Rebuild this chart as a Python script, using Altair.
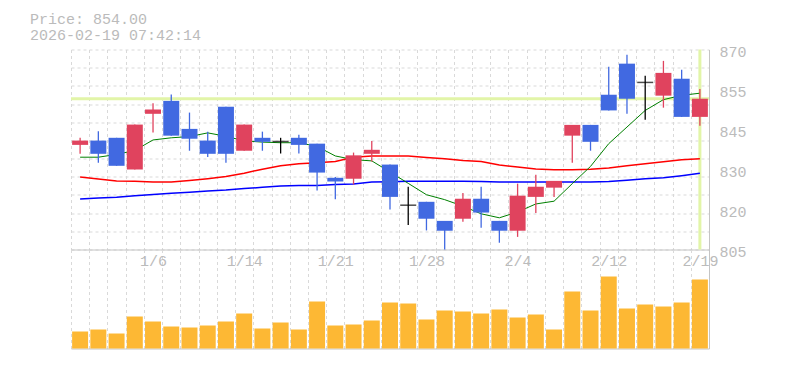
import altair as alt
import pandas as pd

# ---------------- data ----------------
dates = ["12/26", "12/29", "12/30", "1/5", "1/6", "1/7", "1/8", "1/9", "1/13", "1/14",
         "1/15", "1/16", "1/19", "1/20", "1/21", "1/22", "1/23", "1/26", "1/27", "1/28",
         "1/29", "1/30", "2/2", "2/3", "2/4", "2/5", "2/6", "2/9", "2/10", "2/12",
         "2/13", "2/16", "2/17", "2/18", "2/19"]
opens = [839.0, 840.4, 841.3, 831.0, 849.1, 853.3, 844.2, 840.4, 851.4, 837.1,
         841.3, 840.1, 841.3, 839.4, 828.3, 828.0, 836.1, 832.6, 819.4, 820.5,
         814.3, 815.0, 821.5, 814.3, 811.1, 822.1, 825.1, 842.0, 845.5, 855.3,
         865.4, 859.3, 855.0, 860.5, 848.1]
highs = [841.3, 843.4, 841.3, 845.6, 852.5, 855.4, 849.5, 843.3, 851.4, 845.6,
         843.3, 841.3, 842.3, 839.4, 828.6, 836.5, 840.3, 832.6, 825.4, 820.5,
         814.3, 823.4, 825.4, 814.3, 826.4, 829.3, 827.3, 845.5, 845.5, 864.4,
         868.3, 861.5, 866.3, 863.4, 857.2]
lows = [836.1, 833.2, 832.2, 831.0, 843.0, 842.0, 837.1, 835.1, 833.2, 837.1,
        837.1, 836.2, 836.2, 824.2, 821.3, 826.1, 833.6, 818.0, 813.0, 811.2,
        805.0, 814.0, 812.1, 807.2, 809.1, 816.9, 822.1, 833.2, 837.1, 850.2,
        849.1, 847.2, 851.1, 848.1, 845.2]
closes = [840.4, 836.1, 832.2, 845.6, 850.5, 842.0, 841.0, 836.1, 836.1, 845.6,
          840.0, 840.1, 839.0, 830.0, 827.1, 835.6, 837.4, 822.1, 819.4, 815.0,
          811.1, 821.5, 817.0, 811.1, 822.5, 825.4, 827.3, 845.5, 840.0, 850.2,
          854.0, 859.3, 862.4, 848.1, 854.0]
volumes = [17, 19, 15, 32, 27, 22, 21, 23, 27, 35,
           20, 26, 19, 47, 23, 24, 28, 46, 45, 29,
           38, 37, 35, 39, 31, 34, 19, 57, 38, 72,
           40, 44, 42, 46, 69]
ma_short = [835.0, 835.0, 835.9, 837.2, 840.6, 841.3, 841.7, 842.9, 841.8, 840.3,
            839.9, 839.7, 839.7, 838.5, 835.4, 834.2, 833.8, 830.2, 826.5, 822.8,
            821.2, 819.1, 816.6, 815.3, 817.2, 819.8, 820.7, 826.4, 832.0, 839.4,
            844.8, 850.2, 853.7, 855.1, 855.8]
ma_mid = [828.6, 827.9, 827.3, 827.2, 826.9, 826.9, 827.4, 828.0, 828.7, 829.8,
          831.1, 832.2, 832.9, 833.2, 833.6, 835.0, 835.4, 835.4, 835.4, 834.9,
          834.5, 833.9, 833.6, 832.5, 831.8, 831.2, 830.9, 830.9, 831.1, 831.5,
          832.2, 832.9, 833.5, 834.2, 834.5]
ma_long = [821.4, 821.7, 822.0, 822.5, 822.9, 823.3, 823.6, 824.0, 824.3, 824.8,
           825.2, 825.6, 825.8, 825.8, 826.1, 826.3, 826.9, 827.0, 827.2, 827.2,
           827.2, 827.2, 827.1, 826.9, 826.9, 826.9, 826.9, 826.9, 826.9, 827.1,
           827.5, 828.0, 828.3, 829.0, 829.8]
last_price = 854.0
timestamp = "2026-02-19 07:42:14"

label_idx = [4, 9, 14, 19, 24, 29, 34]
y_tick_values = [805, 818, 831, 844, 857, 870]
y_tick_labels = ["805", "820", "830", "845", "855", "870"]
y_grid_values = [805, 810.909, 816.818, 822.727, 828.636, 834.545,
                 840.455, 846.364, 852.273, 858.182, 864.091, 870]

# ---------------- styling ----------------
FONT = "Liberation Mono"
LABEL = "#bbbbbb"
GRID = "#d9d9d9"
BORDER = "#c4c4c4"
UP = "#e0435e"
DOWN = "#4169e1"
VOL = "#fdb834"
PRICE_LINE = "#e2f5a8"

n = len(dates)
df = pd.DataFrame({
    "idx": list(range(n)), "date": dates, "open": opens, "high": highs,
    "low": lows, "close": closes, "vol": volumes,
    "ma_short": ma_short, "ma_mid": ma_mid, "ma_long": ma_long,
})
df["dir"] = ["up" if c > o else ("down" if c < o else "doji") for o, c in zip(opens, closes)]

x_grid_values = [i - 0.5 for i in range(n + 1)]
xscale = alt.Scale(domain=[-0.5, n - 0.5], nice=False, zero=False, padding=0)
yscale = alt.Scale(domain=[805, 870], nice=False, zero=False, padding=0)
vscale = alt.Scale(domain=[0, 99], nice=False, zero=True, padding=0)
dir_scale = alt.Scale(domain=["up", "down", "doji"], range=[UP, DOWN, "#000000"])

grid_x_axis = alt.Axis(values=x_grid_values, orient="bottom", grid=True, gridDash=[3, 3],
                       gridColor=GRID, labels=False, ticks=False, domain=True,
                       domainColor=BORDER, title=None)
grid_y_axis = alt.Axis(values=y_grid_values, orient="left", grid=True, gridDash=[3, 3],
                       gridColor=GRID, labels=False, ticks=False, domain=False, title=None)

y_expr = " : ".join(f"datum.value == {v} ? '{l}'" for v, l in zip(y_tick_values, y_tick_labels)) + " : ''"
price_axis = alt.Axis(values=y_tick_values, orient="right", labelExpr=y_expr, grid=False,
                      ticks=False, domain=True, domainColor=BORDER, labelPadding=10,
                      labelFont=FONT, labelFontSize=15, labelColor=LABEL, labelOffset=2,
                      title=None)

x_expr = " : ".join(f"datum.value == {i} ? '{dates[i]}'" for i in label_idx) + " : ''"
date_axis = alt.Axis(values=label_idx, orient="top", labelExpr=x_expr, grid=False,
                     ticks=False, tickSize=0, domain=False, labelPadding=-11,
                     labelBaseline="middle", labelFlush=False, labelOverlap=False,
                     labelFont=FONT, labelFontSize=15, labelColor=LABEL, title=None)
vol_axis = alt.Axis(orient="right", labels=False, ticks=False, grid=False, domain=True,
                    domainColor=BORDER, title=None)

base = alt.Chart(df)

hline = alt.Chart(pd.DataFrame({"price": [last_price]})).mark_rule(
    color=PRICE_LINE, strokeWidth=3).encode(
    y=alt.Y("price:Q", scale=yscale, axis=None))
vline = alt.Chart(pd.DataFrame({"idx": [n - 1]})).mark_rule(
    color=PRICE_LINE, strokeWidth=3).encode(
    x=alt.X("idx:Q", scale=xscale, axis=None))


def ma_layer(field, color, width, with_grid=False):
    return base.mark_line(color=color, strokeWidth=width).encode(
        x=alt.X("idx:Q", scale=xscale, axis=grid_x_axis if with_grid else None),
        y=alt.Y(f"{field}:Q", scale=yscale, axis=grid_y_axis if with_grid else None),
    )


ma_l = ma_layer("ma_long", "#0000ff", 1.5, with_grid=True)
ma_m = ma_layer("ma_mid", "#ff0000", 1.5)
ma_s = ma_layer("ma_short", "#008000", 1.0)

wicks = base.mark_rule(strokeWidth=1.3).encode(
    x=alt.X("idx:Q", scale=xscale, axis=None),
    y=alt.Y("low:Q", scale=yscale, axis=None),
    y2="high:Q",
    color=alt.Color("dir:N", scale=dir_scale, legend=None),
)
bodies = base.transform_filter("datum.dir != 'doji'").mark_bar(size=16).encode(
    x=alt.X("idx:Q", scale=xscale, axis=None),
    y=alt.Y("open:Q", scale=yscale, axis=price_axis),
    y2="close:Q",
    color=alt.Color("dir:N", scale=dir_scale, legend=None),
)
dojis = base.transform_filter("datum.dir == 'doji'").mark_tick(
    orient="horizontal", size=16, thickness=1.5, color="#000000").encode(
    x=alt.X("idx:Q", scale=xscale, axis=None),
    y=alt.Y("close:Q", scale=yscale, axis=None),
)

price = alt.layer(hline, vline, ma_l, ma_m, ma_s, wicks, bodies, dojis).resolve_axis(
    x="independent", y="independent").properties(width=638, height=200)

vol_grid = base.mark_bar(size=16, opacity=0).encode(
    x=alt.X("idx:Q", scale=xscale, axis=grid_x_axis),
    y=alt.Y("vol:Q", scale=vscale, axis=None),
)
vol_bars = base.mark_bar(size=16, color=VOL).encode(
    x=alt.X("idx:Q", scale=xscale, axis=date_axis),
    y=alt.Y("vol:Q", scale=vscale, axis=vol_axis),
)
volume = alt.layer(vol_grid, vol_bars).resolve_axis(
    x="independent", y="independent").properties(width=638, height=99)

chart = alt.vconcat(price, volume, spacing=0, bounds="flush").properties(
    title=alt.TitleParams(text=[f"Price: {last_price:.2f}", timestamp], anchor="start",
                          frame="group", dx=-41, font=FONT, fontSize=15,
                          fontWeight="normal", color=LABEL, lineHeight=16, offset=2),
    padding={"left": 22, "top": 3.5, "right": 5, "bottom": 5},
).configure_view(stroke=None)

chart.save("out.html", embed_options={"renderer": "svg", "actions": False})
